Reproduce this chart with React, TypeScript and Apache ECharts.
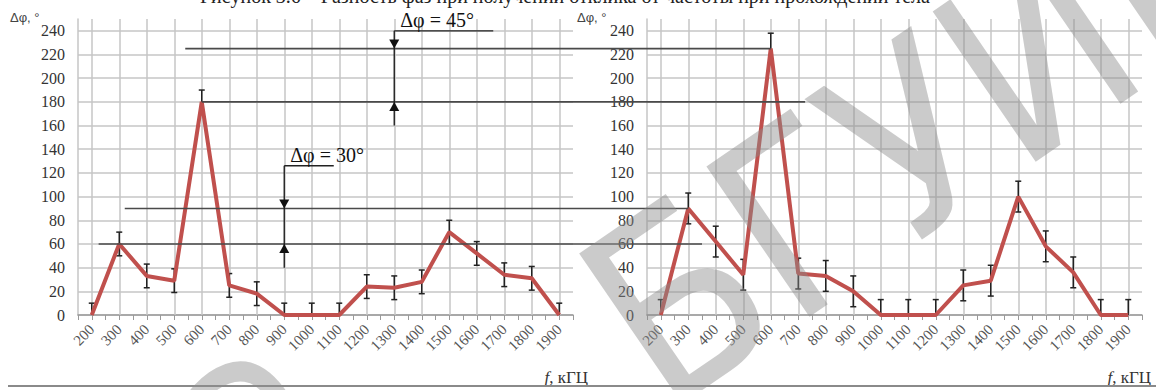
import React, { useEffect, useRef } from 'react';
import * as echarts from 'echarts';

const categories = [200, 300, 400, 500, 600, 700, 800, 900, 1000, 1100, 1200, 1300, 1400, 1500, 1600, 1700, 1800, 1900];
const leftValues = [0, 60, 33, 29, 180, 25, 18, 0, 0, 0, 24, 23, 28, 70, 52, 34, 31, 0];
const leftErrors = [10, 10, 10, 10, 10, 10, 10, 10, 10, 10, 10, 10, 10, 10, 10, 10, 10, 10];
const rightValues = [0, 90, 62, 34, 225, 35, 33, 20, 0, 0, 0, 25, 29, 100, 58, 36, 0, 0];
const rightErrors = [13, 13, 13, 13, 13, 13, 13, 13, 13, 13, 13, 13, 13, 13, 13, 13, 13, 13];

const yLabel = 'Δφ, °';
const xLabelUnit = ', кГЦ';
const caption = 'Рисунок 3.6 – Разность фаз при получении отклика от частоты при прохождении тела';

// reference lines: value, start (grid, f), end (grid, f)
const refLines = [
  { value: 225, g1: 0, f1: 540, g2: 1, f2: 600 },
  { value: 180, g1: 0, f1: 600, g2: 1, f2: 725 },
  { value: 90, g1: 0, f1: 320, g2: 1, f2: 300 },
  { value: 60, g1: 0, f1: 225, g2: 1, f2: 350 },
];
// dimension arrows (left grid coords)
const arrows = [
  { label: 'Δφ = 45°', f: 1300, top: 240, bottom: 160, hiTo: 225, loTo: 180, capTo: 1660 },
  { label: 'Δφ = 30°', f: 900, top: 126, bottom: 40, hiTo: 90, loTo: 60, capTo: 1080 },
];

const SERIF = '"Liberation Serif", "Times New Roman", serif';
const SANS = '"Liberation Sans", Arial, sans-serif';
const GRID_C = '#c6c6c6';
const WM_FONT = '250px "DejaVu Sans Condensed", "DejaVu Sans", sans-serif';
const WM_FILL = 'rgba(140,140,140,0.45)';

function xAxis(gridIndex: number) {
  return {
    type: 'value', gridIndex, min: 150, max: 1950, interval: 50,
    axisLine: { show: true, onZero: false, lineStyle: { color: '#9a9a9a', width: 1.5 } },
    axisTick: { show: true, length: 5, lineStyle: { color: '#9a9a9a', width: 1 } },
    splitLine: { show: false },
    axisLabel: {
      rotate: 45, margin: 12, fontFamily: SERIF, fontSize: 15, color: '#555',
      hideOverlap: false, showMinLabel: true, showMaxLabel: true,
      formatter: (v: number) => (categories.indexOf(v) >= 0 ? String(v) : ''),
    },
  };
}
function yAxis(gridIndex: number) {
  return {
    type: 'value', gridIndex, min: 0, max: 250, interval: 20,
    axisLine: { show: true, lineStyle: { color: GRID_C, width: 1.5 } },
    axisTick: { show: false },
    splitLine: { show: true, showMaxLine: false, lineStyle: { color: GRID_C, width: 1.5 } },
    axisLabel: { showMaxLabel: false, fontFamily: SERIF, fontSize: 16, color: '#333', margin: 13 },
  };
}
function seriesFor(gridIndex: number, values: number[], errors: number[]) {
  return [
    {
      type: 'custom', xAxisIndex: gridIndex, yAxisIndex: gridIndex, z: 2,
      data: categories.map((c, i) => [c, Math.max(0, values[i] - errors[i]), values[i] + errors[i]]),
      renderItem: (params: any, api: any) => {
        const x = api.value(0), lo = api.value(1), hi = api.value(2);
        const pLo = api.coord([x, lo]);
        const pHi = api.coord([x, hi]);
        const cap = 3;
        const style = { stroke: '#222', lineWidth: 1.5 };
        const children: any[] = [
          { type: 'line', shape: { x1: pLo[0], y1: pLo[1], x2: pHi[0], y2: pHi[1] }, style },
          { type: 'line', shape: { x1: pHi[0] - cap, y1: pHi[1], x2: pHi[0] + cap, y2: pHi[1] }, style },
        ];
        if (lo > 0) children.push({ type: 'line', shape: { x1: pLo[0] - cap, y1: pLo[1], x2: pLo[0] + cap, y2: pLo[1] }, style });
        return { type: 'group', children };
      },
    },
    {
      type: 'line', xAxisIndex: gridIndex, yAxisIndex: gridIndex, z: 3,
      data: categories.map((c, i) => [c, values[i]]),
      symbol: 'none',
      lineStyle: { color: '#c0504d', width: 4 },
      markLine: {
        silent: true, symbol: 'none', z: 1,
        label: { show: false },
        lineStyle: { color: GRID_C, width: 1.5, type: 'solid' },
        data: categories.map((c) => ({ xAxis: c })),
      },
    },
  ];
}

export default function App() {
  const ref = useRef<HTMLDivElement>(null);
  useEffect(() => {
    if (!ref.current) return;
    const chart = echarts.init(ref.current, undefined, { renderer: 'svg' });
    chart.setOption({
      animation: false,
      backgroundColor: '#fff',
      grid: [
        { left: 78, top: 19, width: 495, height: 296, outerBoundsMode: 'none' },
        { left: 647, top: 19, width: 495, height: 296, outerBoundsMode: 'none' },
      ],
      xAxis: [xAxis(0), xAxis(1)],
      yAxis: [yAxis(0), yAxis(1)],
      series: [...seriesFor(0, leftValues, leftErrors), ...seriesFor(1, rightValues, rightErrors)],
    });

    const px = (g: number, f: number, v: number) => chart.convertToPixel({ gridIndex: g } as any, [f, v]) as number[];
    const dark = { stroke: '#4a4a4a', lineWidth: 1.6 };
    const graphics: any[] = [];
    refLines.forEach((r) => {
      const a = px(r.g1, r.f1, r.value);
      const b = px(r.g2, r.f2, r.value);
      graphics.push({ type: 'line', z: 10, shape: { x1: a[0], y1: a[1], x2: b[0], y2: b[1] }, style: dark });
    });
    arrows.forEach((a) => {
      const top = px(0, a.f, a.top);
      const bot = px(0, a.f, a.bottom);
      const capEnd = px(0, a.capTo, a.top);
      const hi = px(0, a.f, a.hiTo);
      const lo = px(0, a.f, a.loTo);
      const st = { stroke: '#222', lineWidth: 1.4 };
      graphics.push({ type: 'line', z: 11, shape: { x1: top[0], y1: top[1], x2: bot[0], y2: bot[1] }, style: st });
      graphics.push({ type: 'line', z: 11, shape: { x1: top[0], y1: top[1], x2: capEnd[0], y2: capEnd[1] }, style: st });
      graphics.push({ type: 'polygon', z: 11, shape: { points: [[hi[0] - 5, hi[1] - 9], [hi[0] + 5, hi[1] - 9], [hi[0], hi[1]]] }, style: { fill: '#111' } });
      graphics.push({ type: 'polygon', z: 11, shape: { points: [[lo[0] - 5, lo[1] + 9], [lo[0] + 5, lo[1] + 9], [lo[0], lo[1]]] }, style: { fill: '#111' } });
      graphics.push({ type: 'text', z: 11, x: top[0] + 6, y: top[1] - 1, style: { text: a.label, font: `20px ${SERIF}`, fill: '#111', textVerticalAlign: 'bottom' } });
    });
    const yl0 = px(0, 150, 250);
    const yl1 = px(1, 150, 250);
    graphics.push({ type: 'text', x: yl0[0] - 68, y: yl0[1] - 2, style: { text: yLabel, font: `13px ${SANS}`, fill: '#444', textVerticalAlign: 'middle' } });
    graphics.push({ type: 'text', x: yl1[0] - 70, y: yl1[1] - 2, style: { text: yLabel, font: `13px ${SANS}`, fill: '#444', textVerticalAlign: 'middle' } });
    const xr0 = px(0, 1950, 0);
    const xr1 = px(1, 1950, 0);
    [xr0, xr1].forEach((p, i) => {
      graphics.push({
        type: 'text', x: i === 0 ? p[0] + 15 : p[0] + 9, y: 377,
        style: {
          text: '{i|f}{n|' + xLabelUnit + '}', textAlign: 'right', textVerticalAlign: 'middle',
          rich: { i: { fontFamily: SERIF, fontSize: 17, fontStyle: 'italic', fill: '#333' }, n: { fontFamily: SERIF, fontSize: 17, fill: '#333' } },
        },
      });
    });
    graphics.push({ type: 'line', shape: { x1: 8, y1: 386, x2: 1156, y2: 386 }, style: { stroke: '#8a8a8a', lineWidth: 2 } });
    graphics.push({ type: 'text', x: 200, y: 6, style: { text: caption, font: `20px ${SERIF}`, fill: '#222', textVerticalAlign: 'bottom' } });
    // watermark
    graphics.push({ type: 'text', z: 20, x: 300, y: 375, rotation: 0.6, style: { text: 'Библиотека', font: WM_FONT, fill: WM_FILL, textAlign: 'right', textVerticalAlign: 'middle' } });
    graphics.push({ type: 'text', z: 20, x: 615, y: 345, rotation: 0.6, style: { text: 'БГУИР', font: WM_FONT, fill: WM_FILL, textAlign: 'left', textVerticalAlign: 'middle' } });
    chart.setOption({ graphic: graphics });
    return () => chart.dispose();
  }, []);
  return <div ref={ref} style={{ position: 'absolute', left: 0, top: 0, width: 1156, height: 390 }} />;
}
